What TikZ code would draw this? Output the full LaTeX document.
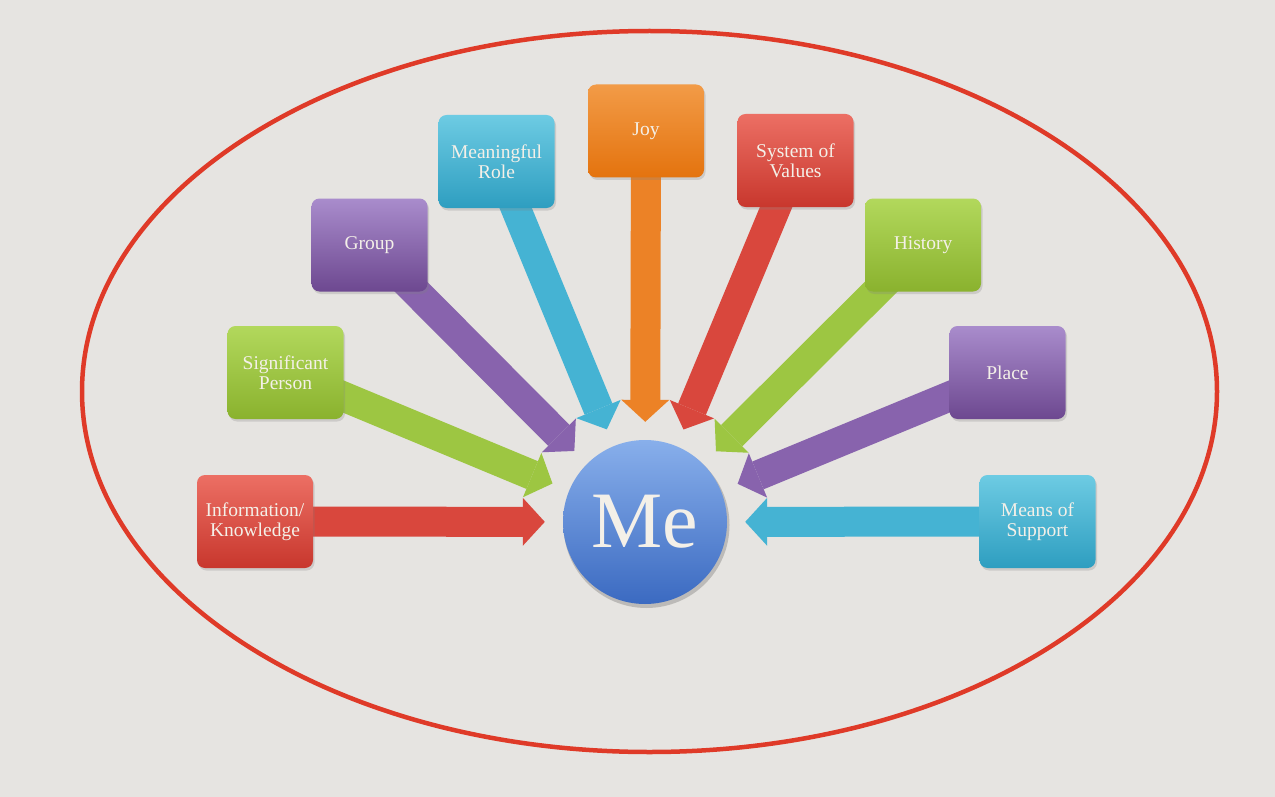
\documentclass[tikz,border=0pt]{standalone}
\usepackage{fontspec}
\setmainfont{Liberation Serif}
\usetikzlibrary{arrows.meta,shadows,backgrounds}
\definecolor{bgc}{HTML}{E6E4E1}
\definecolor{ringc}{HTML}{DF3A28}
\definecolor{txtc}{HTML}{F4F0E8}
\definecolor{redA}{HTML}{EC6F64}\definecolor{redB}{HTML}{C8372D}\definecolor{redM}{HTML}{D9473D}
\definecolor{grnA}{HTML}{B2D85C}\definecolor{grnB}{HTML}{8AB22E}\definecolor{grnM}{HTML}{9DC642}
\definecolor{purA}{HTML}{A98CCC}\definecolor{purB}{HTML}{6D4890}\definecolor{purM}{HTML}{8863AD}
\definecolor{cyaA}{HTML}{6DCBE3}\definecolor{cyaB}{HTML}{2E9EC0}\definecolor{cyaM}{HTML}{45B3D3}
\definecolor{oraA}{HTML}{F29B47}\definecolor{oraB}{HTML}{E4730E}\definecolor{oraM}{HTML}{EC8226}
\definecolor{bluA}{HTML}{88AFEB}\definecolor{bluB}{HTML}{3B6AC1}
\begin{document}
\begin{tikzpicture}[x=1pt,y=-1pt,
  box/.style={rounded corners=8pt, minimum width=116pt, minimum height=93pt,
    inner sep=2pt, align=center, text=txtc, font=\fontsize{19.5}{20}\selectfont,
    drop shadow={shadow xshift=1.5pt, shadow yshift=-2.5pt, opacity=0.25}},
  redbox/.style={box, top color=redA, bottom color=redB},
  grnbox/.style={box, top color=grnA, bottom color=grnB},
  purbox/.style={box, top color=purA, bottom color=purB},
  cyabox/.style={box, top color=cyaA, bottom color=cyaB},
  orabox/.style={box, top color=oraA, bottom color=oraB},
  conn/.style={line width=30pt, line cap=butt, shorten >=18pt,
    -{Triangle[length=22pt,width=48pt,line width=0pt]}},
]
\useasboundingbox (0,0) rectangle (1275,797);
\begin{scope}[on background layer]
  \fill[bgc] (0,0) rectangle (1275,797);
  \draw[ringc, line width=4.5pt] (649.5,391.5) ellipse [x radius=567.5, y radius=360.5];
\end{scope}

\fill[black, opacity=0.18] (646.5,525) circle [radius=83];
\node[circle, minimum size=164pt, inner sep=0pt, top color=bluA, bottom color=bluB,
  text=txtc, font=\fontsize{80}{80}\selectfont]
  (me) at (645,522) {Me};

\node[redbox] (info)   at (255,521.5)   {Information/\\Knowledge};
\node[grnbox] (sig)    at (285.5,372.5) {Significant\\Person};
\node[purbox] (group)  at (369.5,245)   {Group};
\node[cyabox] (role)   at (496.5,161.5) {Meaningful\\Role};
\node[orabox] (joy)    at (646,131)     {Joy};
\node[redbox] (values) at (795.5,160.5) {System of\\Values};
\node[grnbox] (hist)   at (923,245)     {History};
\node[purbox] (place)  at (1007.5,372.5){Place};
\node[cyabox] (means)  at (1037.5,521.5){Means of\\Support};

\begin{scope}[on background layer]
  \draw[conn, redM] (info.center)   -- (me);
  \draw[conn, grnM] (sig.center)    -- (me);
  \draw[conn, purM] (group.center)  -- (me);
  \draw[conn, cyaM] (role.center)   -- (me);
  \draw[conn, oraM] (joy.center)    -- (me);
  \draw[conn, redM] (values.center) -- (me);
  \draw[conn, grnM] (hist.center)   -- (me);
  \draw[conn, purM] (place.center)  -- (me);
  \draw[conn, cyaM] (means.center)  -- (me);
\end{scope}
\end{tikzpicture}
\end{document}
